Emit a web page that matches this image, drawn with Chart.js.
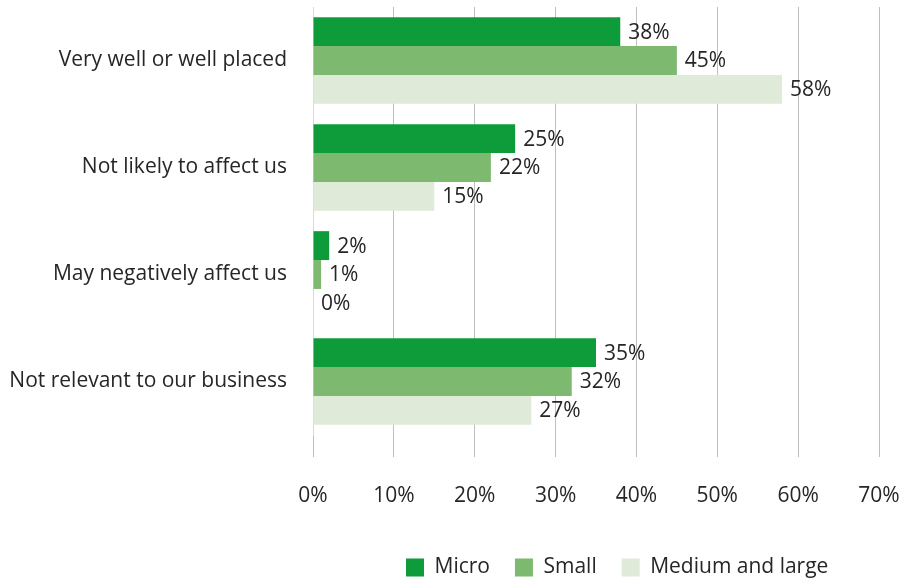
<!DOCTYPE html>
<html>
<head>
<meta charset="utf-8">
<script src="https://cdn.jsdelivr.net/npm/chart.js@4/dist/chart.umd.min.js"></script>
<style>
  html, body { margin: 0; padding: 0; background: #ffffff; }
  #wrap { width: 902px; height: 581px; position: relative; }
</style>
</head>
<body>
<div id="wrap"><canvas id="chart"></canvas></div>
<script>
// Survey answers by business size (share of respondents, %)
const categories = [
  'Very well or well placed',
  'Not likely to affect us',
  'May negatively affect us',
  'Not relevant to our business'
];
const microValues = [38, 25, 2, 35];
const smallValues = [45, 22, 1, 32];
const mediumLargeValues = [58, 15, 0, 27];
const seriesNames = ['Micro', 'Small', 'Medium and large'];
const seriesColors = ['#0e9c3a', '#7db96f', '#dfead9'];
const xTickValues = [0, 10, 20, 30, 40, 50, 60, 70];

const FONT = '"Open Sans", "Noto Sans", sans-serif';
const FONT_SIZE = 21;
const TEXT = '#262626';

// Writes each bar's value just past its end
const valueLabels = {
  id: 'valueLabels',
  afterDatasetsDraw(chart) {
    const ctx = chart.ctx;
    ctx.save();
    ctx.font = FONT_SIZE + 'px ' + FONT;
    ctx.fillStyle = TEXT;
    ctx.textAlign = 'left';
    ctx.textBaseline = 'middle';
    chart.data.datasets.forEach((ds, i) => {
      chart.getDatasetMeta(i).data.forEach((bar, j) => {
        ctx.fillText(ds.data[j] + '%', bar.x + 8, bar.y + 1);
      });
    });
    ctx.restore();
  }
};

// Puts the legend row under the right-hand part of the plot
const legendPlacement = {
  id: 'legendPlacement',
  afterLayout(chart) {
    const lg = chart.legend;
    if (!lg || !lg.lineWidths) return;
    const pad = lg.options.labels.padding;
    const startX = 406;
    lg.right = 902;
    lg.left = 2 * startX + lg.lineWidths[0] - lg.right - pad;
    const h = lg.height;
    lg.top = 532;
    lg.bottom = lg.top + h;
  }
};

new Chart(document.getElementById('chart'), {
  type: 'bar',
  data: {
    labels: categories,
    datasets: [
      { label: seriesNames[0], data: microValues, backgroundColor: seriesColors[0] },
      { label: seriesNames[1], data: smallValues, backgroundColor: seriesColors[1] },
      { label: seriesNames[2], data: mediumLargeValues, backgroundColor: seriesColors[2] }
    ]
  },
  options: {
    indexAxis: 'y',
    responsive: true,
    maintainAspectRatio: false,
    animation: false,
    layout: { padding: { top: 7, left: 0, right: 0, bottom: 18 } },
    datasets: { bar: { categoryPercentage: 0.81, barPercentage: 1.0, borderWidth: 0 } },
    scales: {
      x: {
        min: 0,
        max: 70,
        afterBuildTicks(scale) {
          scale.ticks = xTickValues.map(v => ({ value: v }));
        },
        afterFit(scale) {
          scale.height = 72;
          scale.paddingLeft = 0;
          scale.paddingRight = 23;
        },
        ticks: {
          callback: v => v + '%',
          color: TEXT,
          font: { family: FONT, size: FONT_SIZE },
          padding: 26,
          maxRotation: 0
        },
        grid: { color: '#bfbfbf', lineWidth: 1, tickLength: 22, drawTicks: true },
        border: { display: false }
      },
      y: {
        afterFit(scale) {
          scale.width = 313;
          scale.paddingTop = 0;
          scale.paddingBottom = 0;
        },
        ticks: {
          color: TEXT,
          font: { family: FONT, size: FONT_SIZE },
          padding: 26
        },
        grid: { display: false, drawTicks: false },
        border: { display: true, color: '#d9d9d9', width: 1 }
      }
    },
    plugins: {
      legend: {
        position: 'bottom',
        labels: {
          boxWidth: 18,
          boxHeight: 18,
          padding: 25,
          color: TEXT,
          font: { family: FONT, size: FONT_SIZE }
        }
      },
      tooltip: { enabled: false }
    }
  },
  plugins: [valueLabels, legendPlacement]
});
</script>
</body>
</html>
